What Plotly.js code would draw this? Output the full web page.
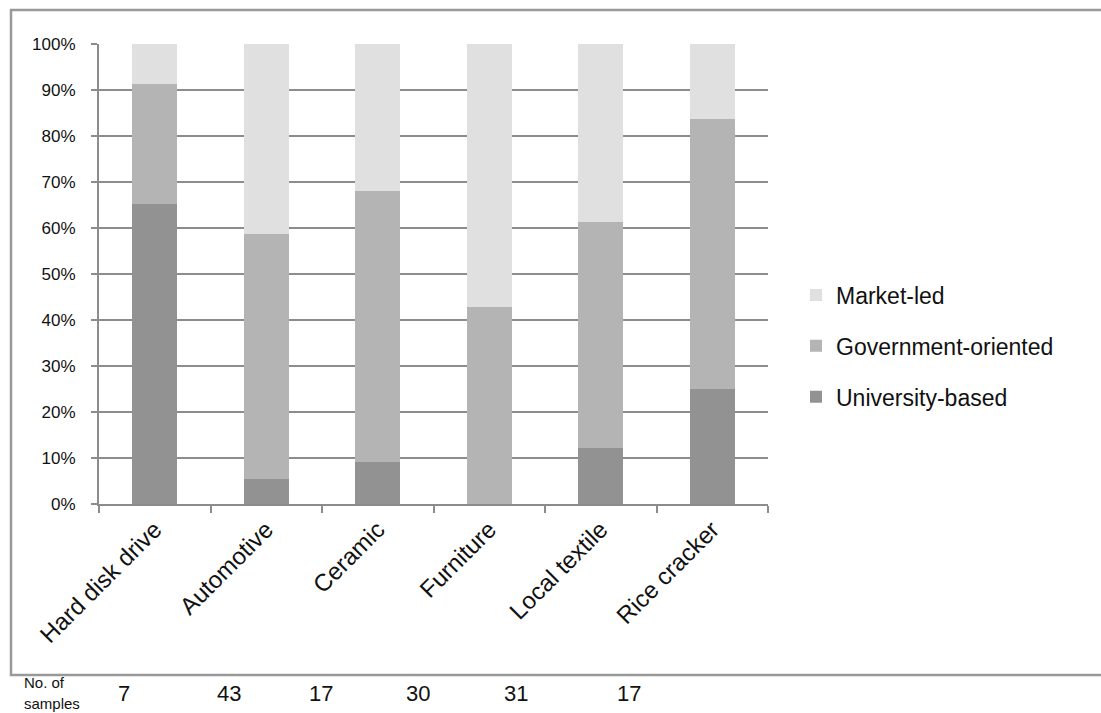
<!DOCTYPE html>
<html>
<head>
<meta charset="utf-8">
<script src="https://cdn.plot.ly/plotly-3.0.1.min.js"></script>
<style>html,body{margin:0;padding:0;background:#fff;}#chart{width:1101px;height:713px;}</style>
</head>
<body>
<div id="chart"></div>
<script>
// ---- data ----
const categories = ["Hard disk drive", "Automotive", "Ceramic", "Furniture", "Local textile", "Rice cracker"];
const universityBased = [65.3, 5.5, 9.1, 0, 12.1, 25.1];
const governmentOriented = [25.9, 53.3, 58.9, 42.9, 49.3, 58.5];
const marketLed = [8.8, 41.2, 32.0, 57.1, 38.6, 16.4];
const sampleCounts = [7, 43, 17, 30, 31, 17];
const sampleRowLabel = ["No. of", "samples"];
const yTickVals = [0, 10, 20, 30, 40, 50, 60, 70, 80, 90, 100];
const yTickText = yTickVals.map(v => v + "%");

// ---- layout helpers (pixel geometry of the plot area) ----
const W = 1101, H = 713;
const M = {l: 99, r: 333, t: 44, b: 209};
const PW = W - M.l - M.r, PH = H - M.t - M.b;
const px2x = p => (p - M.l) / PW;
const py2y = p => (H - M.b - p) / PH;
const sampleLabelPx = [124, 229, 321, 418, 516, 629];
const rowLabelPy = [682, 703];

const FONT = "Liberation Sans, Arial, sans-serif";
const NARROW = "Liberation Sans Narrow, Arial Narrow, Liberation Sans, Arial, sans-serif";
const GRID = "#8c8c8c";

function barTrace(name, vals, color, rank) {
  return {
    type: "bar", name: name, x: categories, y: vals,
    marker: {color: color, line: {width: 0}},
    legendgroup: name, legendrank: rank,
    hoverinfo: "skip"
  };
}

const data = [
  barTrace("University-based", universityBased, "#929292", 3),
  barTrace("Government-oriented", governmentOriented, "#b4b4b4", 2),
  barTrace("Market-led", marketLed, "#e0e0e0", 1)
];

const annotations = sampleCounts.map((n, i) => ({
  xref: "paper", yref: "paper", x: px2x(sampleLabelPx[i]), y: py2y(693),
  xanchor: "center", yanchor: "middle", showarrow: false,
  text: String(n), font: {family: NARROW, size: 22, color: "#111"}
}));
sampleRowLabel.forEach((t, i) => annotations.push({
  xref: "paper", yref: "paper", x: px2x(22), y: py2y(rowLabelPy[i]),
  xanchor: "left", yanchor: "middle", showarrow: false,
  text: t, font: {family: NARROW, size: 15, color: "#111"}
}));

const layout = {
  width: W, height: H,
  margin: M,
  paper_bgcolor: "#fff", plot_bgcolor: "#fff",
  barmode: "stack", bargap: 0.6,
  font: {family: FONT, color: "#111"},
  showlegend: true,
  legend: {
    x: px2x(796), xanchor: "left", y: py2y(346), yanchor: "middle",
    traceorder: "grouped", tracegroupgap: 18,
    font: {family: FONT, size: 23, color: "#111"},
    bgcolor: "rgba(0,0,0,0)"
  },
  xaxis: {
    type: "category", tickson: "boundaries",
    showgrid: false, showline: true, linecolor: GRID, linewidth: 2,
    ticks: "outside", ticklen: 7, tickcolor: GRID, tickwidth: 2,
    tickangle: -45, tickfont: {family: FONT, size: 24, color: "#111"},
    zeroline: false, fixedrange: true
  },
  yaxis: {
    range: [0, 100], tickvals: yTickVals, ticktext: yTickText,
    showgrid: true, gridcolor: GRID, gridwidth: 1.3,
    showline: true, linecolor: GRID, linewidth: 2,
    ticks: "outside", ticklen: 6, tickcolor: GRID, tickwidth: 2,
    ticklabelstandoff: 12,
    tickfont: {family: FONT, size: 17, color: "#111"},
    zeroline: false, fixedrange: true
  },
  shapes: [{
    type: "rect", xref: "paper", yref: "paper",
    x0: px2x(11), x1: px2x(1115), y0: py2y(675), y1: py2y(10),
    line: {color: "#999", width: 2.5}, fillcolor: "rgba(0,0,0,0)", layer: "below"
  }],
  annotations: annotations
};

Plotly.newPlot("chart", data, layout, {staticPlot: true, displayModeBar: false});
</script>
</body>
</html>
